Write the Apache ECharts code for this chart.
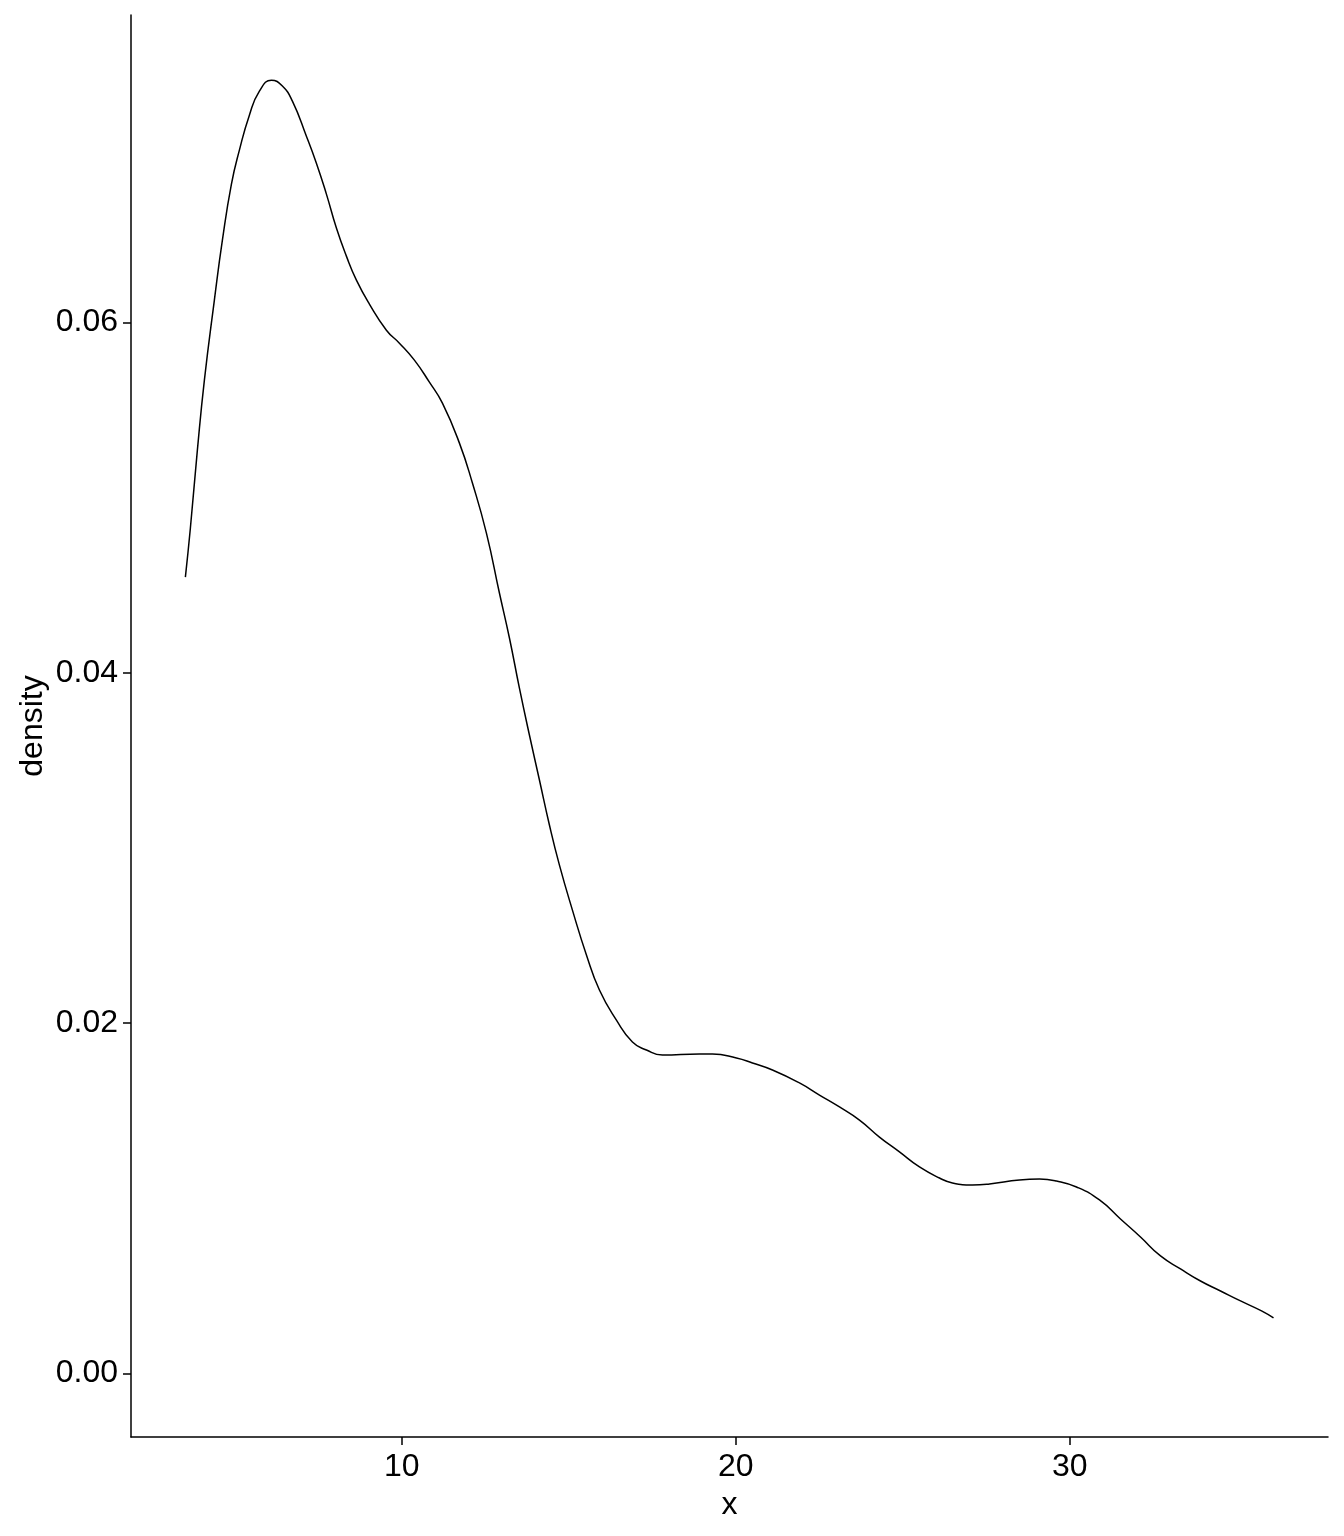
<!DOCTYPE html>
<html>
<head>
<meta charset="utf-8">
<script src="https://cdn.jsdelivr.net/npm/echarts@6/dist/echarts.min.js"></script>
<style>html,body{margin:0;padding:0;background:#fff}#c{width:1344px;height:1536px}</style>
</head>
<body>
<div id="c"></div>
<script>
const xValues = [3.524,3.674,3.883,4.093,4.392,4.632,4.901,5.141,5.440,5.740,6.099,6.428,6.728,7.147,7.446,7.746,8.045,8.344,8.644,9.033,9.542,9.931,10.380,10.829,11.219,11.728,12.117,12.536,12.925,13.225,13.524,13.823,14.123,14.422,14.722,15.111,15.530,15.919,16.428,16.907,17.326,17.805,18.913,19.302,20.021,20.500,21.099,21.907,22.506,23.105,23.704,24.302,24.901,25.500,26.099,26.488,27.087,27.596,28.494,29.093,29.602,30.201,30.889,31.518,32.117,32.716,33.314,33.913,34.512,35.111,35.740,36.099];
const densityValues = [0.04547,0.04827,0.05272,0.05672,0.06129,0.06471,0.06790,0.06985,0.07185,0.07322,0.07385,0.07351,0.07265,0.07065,0.06911,0.06734,0.06540,0.06380,0.06243,0.06106,0.05957,0.05883,0.05786,0.05660,0.05540,0.05312,0.05084,0.04798,0.04456,0.04199,0.03913,0.03645,0.03388,0.03131,0.02902,0.02645,0.02389,0.02189,0.02017,0.01892,0.01846,0.01817,0.01823,0.01823,0.01800,0.01772,0.01732,0.01658,0.01589,0.01521,0.01446,0.01349,0.01264,0.01178,0.01115,0.01087,0.01075,0.01081,0.01104,0.01109,0.01098,0.01064,0.00990,0.00881,0.00778,0.00670,0.00596,0.00527,0.00470,0.00413,0.00356,0.00316];
const xTicks = [10, 20, 30];
const yTicks = [0, 0.02, 0.04, 0.06];

const points = xValues.map((x, i) => [x, densityValues[i]]);
const font = 'Liberation Sans, Arial, sans-serif';
const chart = echarts.init(document.getElementById('c'), null, {renderer: 'canvas'});
chart.setOption({
  animation: false,
  backgroundColor: '#fff',
  grid: {left: 131, right: 16, top: 15, bottom: 99, containLabel: false},
  xAxis: {
    type: 'value', min: 1.896, max: 37.73,
    name: 'x', nameLocation: 'middle', nameGap: 52, nameMoveOverlap: false,
    nameTextStyle: {color: '#000', fontSize: 32, fontFamily: font},
    axisLine: {show: true, onZero: false, lineStyle: {color: '#000', width: 1.5}},
    axisTick: {show: true, length: 8, lineStyle: {color: '#000', width: 1.5}, customValues: xTicks},
    axisLabel: {color: '#000', fontSize: 32, fontFamily: font, margin: 14, customValues: xTicks},
    splitLine: {show: false}
  },
  yAxis: {
    type: 'value', min: -0.00364, max: 0.07757,
    name: 'density', nameLocation: 'middle', nameGap: 82, nameMoveOverlap: false,
    nameTextStyle: {color: '#000', fontSize: 32, fontFamily: font},
    axisLine: {show: true, onZero: false, lineStyle: {color: '#000', width: 1.5}},
    axisTick: {show: true, length: 8, lineStyle: {color: '#000', width: 1.5}, customValues: yTicks},
    axisLabel: {color: '#000', fontSize: 32, fontFamily: font, margin: 13, customValues: yTicks,
      formatter: v => v.toFixed(2)},
    splitLine: {show: false}
  },
  series: [{
    type: 'line', data: points, smooth: 0.5, showSymbol: false,
    lineStyle: {color: '#000', width: 1.5}
  }]
});
</script>
</body>
</html>
